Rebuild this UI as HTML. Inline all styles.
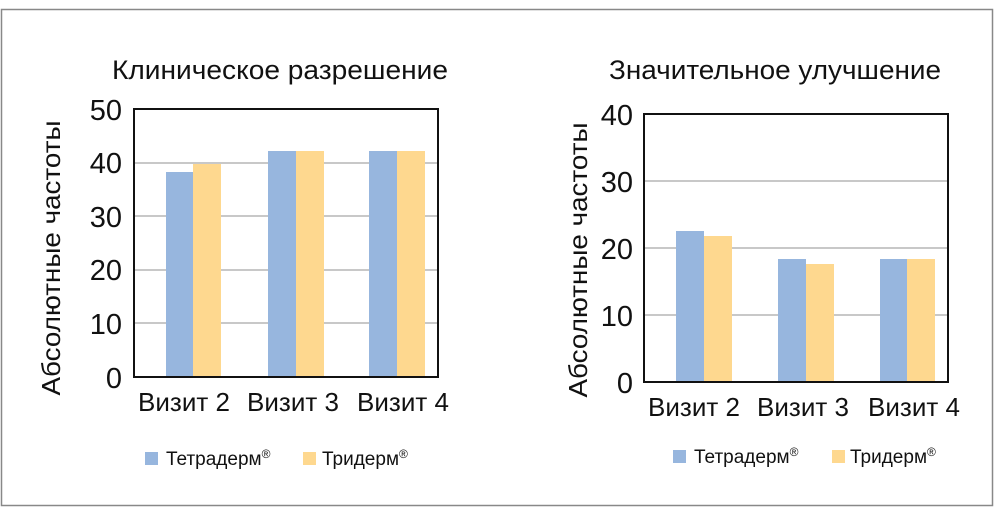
<!DOCTYPE html>
<html><head><meta charset="utf-8"><style>
body{margin:0;background:#fff;}
svg text{font-family:"Liberation Sans",sans-serif;fill:#111;}
</style></head><body>
<svg width="995" height="509" xmlns="http://www.w3.org/2000/svg">
<rect x="1.5" y="9.5" width="991" height="496" fill="#fff" stroke="#888" stroke-width="1.5"/>
<!-- Left chart -->
<text x="112" y="79" font-size="27" textLength="336" lengthAdjust="spacingAndGlyphs">Клиническое разрешение</text>
<text transform="translate(60,258) rotate(-90)" font-size="26" text-anchor="middle" textLength="275" lengthAdjust="spacingAndGlyphs">Абсолютные частоты</text>
<g stroke="#c8c8c8" stroke-width="2">
<line x1="134" x2="438" y1="163" y2="163"/><line x1="134" x2="438" y1="216" y2="216"/>
<line x1="134" x2="438" y1="270" y2="270"/><line x1="134" x2="438" y1="323" y2="323"/>
</g>
<rect x="166" y="172" width="27" height="205" fill="#97b6de"/>
<rect x="193" y="164" width="28" height="213" fill="#fed88f"/>
<rect x="268" y="151" width="28" height="226" fill="#97b6de"/>
<rect x="296" y="151" width="28" height="226" fill="#fed88f"/>
<rect x="369" y="151" width="28" height="226" fill="#97b6de"/>
<rect x="397" y="151" width="28" height="226" fill="#fed88f"/>
<rect x="134" y="109" width="304" height="268" fill="none" stroke="#111" stroke-width="2"/>
<g font-size="29" text-anchor="end">
<text x="122" y="120">50</text><text x="122" y="173">40</text><text x="122" y="227">30</text>
<text x="122" y="280">20</text><text x="122" y="334">10</text><text x="122" y="388">0</text>
</g>
<g font-size="26" text-anchor="middle">
<text x="184" y="411">Визит 2</text><text x="293" y="411">Визит 3</text><text x="403" y="411">Визит 4</text>
</g>
<rect x="145" y="452" width="13" height="13" fill="#97b6de"/>
<text x="166" y="465" font-size="19">Тетрадерм<tspan font-size="12" dy="-7">®</tspan></text>
<rect x="303" y="452" width="13" height="13" fill="#fed88f"/>
<text x="322" y="465" font-size="19">Тридерм<tspan font-size="12" dy="-7">®</tspan></text>
<!-- Right chart -->
<text x="609" y="79" font-size="27" textLength="332" lengthAdjust="spacingAndGlyphs">Значительное улучшение</text>
<text transform="translate(587,260) rotate(-90)" font-size="26" text-anchor="middle" textLength="275" lengthAdjust="spacingAndGlyphs">Абсолютные частоты</text>
<g stroke="#c8c8c8" stroke-width="2">
<line x1="644" x2="948" y1="181" y2="181"/><line x1="644" x2="948" y1="248" y2="248"/>
<line x1="644" x2="948" y1="315" y2="315"/>
</g>
<rect x="676" y="231" width="28" height="151" fill="#97b6de"/>
<rect x="704" y="236" width="28" height="146" fill="#fed88f"/>
<rect x="778" y="259" width="28" height="123" fill="#97b6de"/>
<rect x="806" y="264" width="28" height="118" fill="#fed88f"/>
<rect x="880" y="259" width="27" height="123" fill="#97b6de"/>
<rect x="907" y="259" width="28" height="123" fill="#fed88f"/>
<rect x="644" y="114" width="304" height="268" fill="none" stroke="#111" stroke-width="2"/>
<g font-size="29" text-anchor="end">
<text x="633" y="125">40</text><text x="633" y="192">30</text><text x="633" y="259">20</text>
<text x="633" y="326">10</text><text x="633" y="393">0</text>
</g>
<g font-size="26" text-anchor="middle">
<text x="694" y="416">Визит 2</text><text x="803" y="416">Визит 3</text><text x="914" y="416">Визит 4</text>
</g>
<rect x="673" y="450" width="13" height="13" fill="#97b6de"/>
<text x="694" y="463" font-size="19">Тетрадерм<tspan font-size="12" dy="-7">®</tspan></text>
<rect x="832" y="450" width="13" height="13" fill="#fed88f"/>
<text x="850" y="463" font-size="19">Тридерм<tspan font-size="12" dy="-7">®</tspan></text>
</svg>
</body></html>
